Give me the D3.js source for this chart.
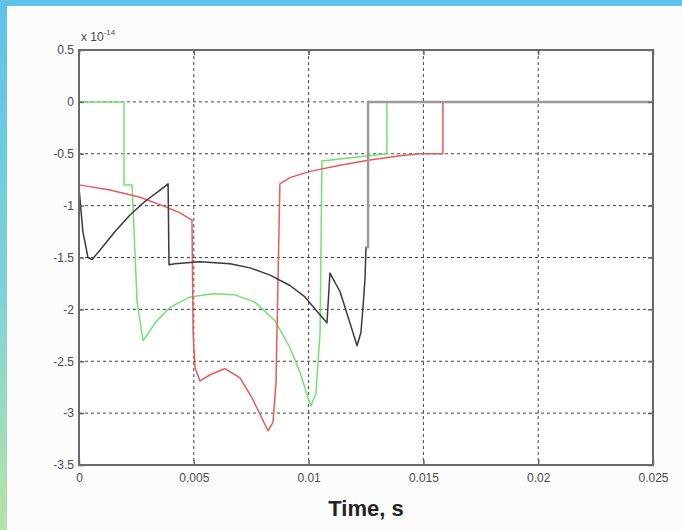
<!DOCTYPE html>
<html>
<head>
<meta charset="utf-8">
<script src="https://cdn.jsdelivr.net/npm/d3@7"></script>
<style>
  body { margin: 0; background: #f8f8f8; }
  svg { display: block; }
</style>
</head>
<body>
<svg id="chart"></svg>
<script>
// data, values in units of 1e-14
var xTicks = [0, 0.005, 0.01, 0.015, 0.02, 0.025];
var xTickLabels = ["0", "0.005", "0.01", "0.015", "0.02", "0.025"];
var yTicks = [0.5, 0, -0.5, -1, -1.5, -2, -2.5, -3, -3.5];

var greenT = [0, 0.00196, 0.00196, 0.00231, 0.00253, 0.00279, 0.00305, 0.00331, 0.00396, 0.00483, 0.00584, 0.00679,
              0.00766, 0.00854, 0.00919, 0.00963, 0.00997, 0.0101, 0.01032, 0.0105, 0.01058, 0.01224, 0.01341, 0.01341, 0.025];
var greenV = [0, 0, -0.8, -0.8, -1.93, -2.3, -2.22, -2.13, -1.98, -1.88, -1.85, -1.86,
              -1.93, -2.11, -2.37, -2.61, -2.85, -2.93, -2.81, -2.22, -0.57, -0.53, -0.5, 0, 0];

var redT = [0, 0.00135, 0.00266, 0.00375, 0.0044, 0.00492, 0.00497, 0.00505, 0.00527, 0.00571, 0.00636,
            0.00701, 0.00753, 0.00797, 0.00823, 0.00845, 0.00858, 0.00875, 0.00919, 0.01006, 0.01137,
            0.01267, 0.01398, 0.01485, 0.01585, 0.01585, 0.025];
var redV = [-0.8, -0.85, -0.92, -1.01, -1.07, -1.14, -2.22, -2.56, -2.69, -2.63, -2.57,
            -2.66, -2.85, -3.05, -3.17, -3.09, -2.71, -0.79, -0.73, -0.67, -0.61,
            -0.56, -0.52, -0.5, -0.5, 0, 0];

var blackT = [0, 0.00017, 0.00039, 0.00057, 0.00091, 0.00157, 0.00222, 0.00287, 0.00353, 0.00388, 0.00392,
              0.00418, 0.00527, 0.00658, 0.00745, 0.00832, 0.00919, 0.00984, 0.01041, 0.0108, 0.01093,
              0.01137, 0.0118, 0.01211, 0.01228, 0.01237, 0.01246, 0.0125];
var blackV = [-0.83, -1.25, -1.5, -1.52, -1.43, -1.25, -1.09, -0.96, -0.85, -0.79, -1.57,
              -1.56, -1.54, -1.56, -1.6, -1.67, -1.77, -1.88, -2.03, -2.13, -1.65,
              -1.83, -2.13, -2.35, -2.22, -1.98, -1.69, -1.4];

var greyT = [0.0125, 0.01259, 0.01259, 0.025];
var greyV = [-1.4, -1.4, 0, 0];

var width = 682, height = 530;
var margin = {top: 50, right: 29, bottom: 65, left: 79};
var w = width - margin.left - margin.right,
    h = height - margin.top - margin.bottom;

var svg = d3.select("#chart")
    .attr("width", width)
    .attr("height", height);

// page decoration: cyan strip on top, cyan-to-green strip on the left
var defs = svg.append("defs");
var grad = defs.append("linearGradient")
    .attr("id", "sideGrad")
    .attr("x1", 0).attr("y1", 0).attr("x2", 0).attr("y2", 1);
grad.append("stop").attr("offset", "0%").attr("stop-color", "#5cc2ea");
grad.append("stop").attr("offset", "55%").attr("stop-color", "#7fd3d6");
grad.append("stop").attr("offset", "100%").attr("stop-color", "#b4e4a6");

svg.append("rect").attr("width", width).attr("height", height).attr("fill", "#f8f8f8");
svg.append("rect").attr("x", 7).attr("y", 6).attr("width", width - 7).attr("height", height - 6).attr("fill", "#fcfcfc");
svg.append("rect").attr("x", 0).attr("y", 0).attr("width", width).attr("height", 6).attr("fill", "#5cc2ea");
svg.append("rect").attr("x", 0).attr("y", 0).attr("width", 7).attr("height", height).attr("fill", "url(#sideGrad)");

var g = svg.append("g")
    .attr("transform", "translate(" + margin.left + "," + margin.top + ")");

var x = d3.scaleLinear().domain([0, 0.025]).range([0, w]);
var y = d3.scaleLinear().domain([-3.5, 0.5]).range([h, 0]);

g.append("rect").attr("width", w).attr("height", h).attr("fill", "#ffffff");

// grid
g.append("g").selectAll("line")
    .data(xTicks.slice(1, -1))
  .enter().append("line")
    .attr("x1", d => x(d)).attr("x2", d => x(d))
    .attr("y1", 0).attr("y2", h)
    .attr("stroke", "#444").attr("stroke-width", 1)
    .attr("stroke-dasharray", "3,3");
g.append("g").selectAll("line")
    .data(yTicks.slice(1, -1))
  .enter().append("line")
    .attr("y1", d => y(d)).attr("y2", d => y(d))
    .attr("x1", 0).attr("x2", w)
    .attr("stroke", "#444").attr("stroke-width", 1)
    .attr("stroke-dasharray", "3,3");

// series
var line = d3.line().x(d => x(d[0])).y(d => y(d[1]));
var series = [
  {t: greenT, v: greenV, color: "#72e272", width: 1.5},
  {t: redT, v: redV, color: "#e85a5a", width: 1.5},
  {t: blackT, v: blackV, color: "#3a3a3a", width: 1.5},
  {t: greyT, v: greyV, color: "#9a9a9a", width: 2.5}
];
series.forEach(function(s) {
  g.append("path")
    .datum(d3.zip(s.t, s.v))
    .attr("fill", "none")
    .attr("stroke", s.color)
    .attr("stroke-width", s.width)
    .attr("stroke-linejoin", "round")
    .attr("d", line);
});

// axes (MATLAB style, ticks inside on all sides)
var tickStyle = function(sel) {
  sel.select(".domain").remove();
  sel.selectAll(".tick line").attr("stroke", "#666").attr("stroke-width", 1.5);
  sel.selectAll(".tick text")
    .attr("fill", "#4a4a4a")
    .style("font-family", "'Liberation Sans', Arial, sans-serif")
    .style("font-size", "12px");
};
g.append("g")
    .attr("transform", "translate(0," + h + ")")
    .call(d3.axisBottom(x).tickValues(xTicks).tickFormat((d, i) => xTickLabels[i]).tickSizeInner(-5).tickPadding(8))
    .call(tickStyle);
g.append("g")
    .call(d3.axisTop(x).tickValues(xTicks).tickFormat("").tickSizeInner(-5))
    .call(tickStyle);
g.append("g")
    .call(d3.axisLeft(y).tickValues(yTicks).tickFormat(d => d === 0 ? "0" : String(d)).tickSizeInner(-5).tickPadding(5))
    .call(tickStyle);
g.append("g")
    .attr("transform", "translate(" + w + ",0)")
    .call(d3.axisRight(y).tickValues(yTicks).tickFormat("").tickSizeInner(-5))
    .call(tickStyle);

// frame
g.append("rect")
    .attr("width", w).attr("height", h)
    .attr("fill", "none")
    .attr("stroke", "#6a6a6a")
    .attr("stroke-width", 2);

// exponent label
var expo = g.append("text")
    .attr("x", 2).attr("y", -9)
    .attr("fill", "#4a4a4a")
    .style("font-family", "'Liberation Sans', Arial, sans-serif")
    .style("font-size", "12px");
expo.append("tspan").text("x 10");
expo.append("tspan").attr("dy", -6).style("font-size", "8px").text("-14");

// x label
svg.append("text")
    .attr("x", margin.left + w / 2)
    .attr("y", 516)
    .attr("text-anchor", "middle")
    .attr("fill", "#222")
    .style("font-family", "'Liberation Sans', Arial, sans-serif")
    .style("font-weight", "bold")
    .style("font-size", "22px")
    .text("Time, s");
</script>
</body>
</html>
